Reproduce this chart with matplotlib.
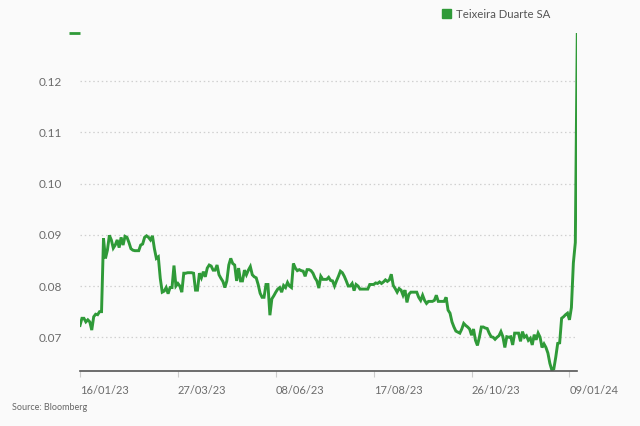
import matplotlib
matplotlib.use("Agg")
import matplotlib.pyplot as plt
from matplotlib.patches import Patch

plt.rcParams['font.family'] = ['Lato', 'DejaVu Sans']

# Teixeira Duarte SA daily close, trading days from 16/01/23 to ~11/01/24
seg1 = [0.0723, 0.0737, 0.0737, 0.0730, 0.0734, 0.0730, 0.0714, 0.0740, 0.0745, 0.0744, 0.0750, 0.0750,
        0.0893, 0.0854, 0.0870, 0.0899, 0.0890, 0.0874, 0.0880, 0.0890, 0.0875, 0.0895, 0.0880, 0.0897,
        0.0895, 0.0885, 0.0873, 0.0870, 0.0869, 0.0869, 0.0869, 0.0880, 0.0882, 0.0895, 0.0898, 0.0895,
        0.0890, 0.0898, 0.0873, 0.0854, 0.0857, 0.0815, 0.0788, 0.0790, 0.0797, 0.0785, 0.0797, 0.0797,
        0.0840, 0.0800, 0.0805, 0.0800, 0.0788, 0.0825, 0.0825]
seg2 = [0.0826, 0.0826, 0.0826, 0.0825, 0.0792, 0.0792, 0.0825, 0.0816, 0.0828, 0.0818, 0.0835,
        0.0841, 0.0839, 0.0831, 0.0831, 0.0841, 0.0822, 0.0815, 0.0809, 0.0797, 0.0810,
        0.0841, 0.0854, 0.0844, 0.0841, 0.0810, 0.0835, 0.0810, 0.0810, 0.0831, 0.0822,
        0.0831, 0.0838, 0.0822, 0.0818, 0.0816, 0.0803, 0.0786, 0.0778, 0.0778, 0.0803,
        0.0803, 0.0743, 0.0775, 0.0781]
seg3 = [0.0788, 0.0794, 0.0797, 0.0788, 0.0801, 0.0797, 0.0807, 0.0800, 0.0797, 0.0844,
        0.0835, 0.0830, 0.0832, 0.0830, 0.0829, 0.0819, 0.0832, 0.0832, 0.0830, 0.0825,
        0.0816, 0.0810, 0.0796, 0.0819, 0.0813, 0.0813, 0.0813, 0.0817, 0.0811, 0.0810,
        0.0800, 0.0810, 0.0819, 0.0829, 0.0826, 0.0819, 0.0810, 0.0800, 0.0800, 0.0805,
        0.0791, 0.0803, 0.0800, 0.0794, 0.0794, 0.0794, 0.0794, 0.0794, 0.0803, 0.0803,
        0.0803, 0.0806, 0.0805, 0.0808, 0.0805, 0.0808, 0.0812, 0.0809, 0.0812]
seg4 = [0.0823, 0.0801, 0.0795, 0.0788, 0.0795, 0.0792, 0.0782, 0.0792, 0.0768, 0.0784,
        0.0788, 0.0788, 0.0788, 0.0788, 0.0778, 0.0772, 0.0782, 0.0772, 0.0766, 0.0770,
        0.0770, 0.0770, 0.0772, 0.0782, 0.0770, 0.0770, 0.0770, 0.0770, 0.0778, 0.0753,
        0.0747, 0.0730, 0.0720, 0.0712, 0.0710, 0.0708, 0.0716, 0.0727, 0.0723, 0.0720,
        0.0716, 0.0704, 0.0716, 0.0694, 0.0684, 0.0700, 0.0720, 0.0720, 0.0718]
seg5 = [0.0717, 0.0708, 0.0701, 0.0700, 0.0696, 0.0700, 0.0703, 0.0711, 0.0701, 0.0680,
        0.0701, 0.0700, 0.0701, 0.0685, 0.0708, 0.0708, 0.0708, 0.0692, 0.0711, 0.0700,
        0.0703, 0.0694, 0.0698, 0.0685, 0.0705, 0.0695, 0.0708, 0.0700, 0.0680, 0.0687,
        0.0680, 0.0669, 0.0649, 0.0636, 0.0638, 0.0661, 0.0688, 0.0689, 0.0737, 0.0740,
        0.0744, 0.0747, 0.0734, 0.0758, 0.0845, 0.0885, 0.1294]
prices = seg1 + seg2 + seg3 + seg4 + seg5

tick_pos = [0, 50, 100, 150, 200, 250]
tick_labels = ["16/01/23", "27/03/23", "08/06/23", "17/08/23", "26/10/23", "09/01/24"]
y_ticks = [0.07, 0.08, 0.09, 0.10, 0.11, 0.12]
y_labels = ["0.07", "0.08", "0.09", "0.10", "0.11", "0.12"]
series_name = "Teixeira Duarte SA"

green = '#2f9a38'
bg = '#fafafa'

fig = plt.figure(figsize=(6.4, 4.26), dpi=100, facecolor=bg)
ax = fig.add_axes([0.125, 0.129, 0.777, 0.7935], facecolor=bg)

ax.plot(range(len(prices)), prices, color=green, lw=2.1, solid_joinstyle='miter')

ax.set_xlim(0, len(prices) - 1)
ax.set_ylim(0.0634, max(prices))

ax.set_yticks(y_ticks)
ax.set_yticklabels(y_labels)
ax.set_xticks(tick_pos)
ax.set_xticklabels(tick_labels, ha='left')

ax.grid(axis='y', color='#d0d0d0', linestyle=(0, (1.2, 2.2)), lw=0.9)
for s in ['left', 'right', 'top']:
    ax.spines[s].set_visible(False)
ax.spines['bottom'].set_color('#555555')
ax.spines['bottom'].set_linewidth(1.2)

ax.tick_params(axis='y', length=0, pad=13, labelsize=8.5, labelcolor='#6b6b6b')
ax.tick_params(axis='x', length=4, color='#cccccc', pad=6, labelsize=8, labelcolor='#6b6b6b')

# little green marker at the top of the value axis
ax.set_yticks([max(prices)], minor=True)
ax.tick_params(axis='y', which='minor', length=8, width=2, color=green, left=True)

fig.legend(handles=[Patch(color=green)], labels=[series_name], loc='upper left',
           bbox_to_anchor=(0.674, 1.004), frameon=False, fontsize=8.2, handlelength=0.8,
           handleheight=0.8, handletextpad=0.45, labelcolor='#555555')

fig.text(0.018, 0.038, "Source: Bloomberg", fontsize=6.5, color='#666666')

fig.savefig('out.png', dpi=100, facecolor=bg)
